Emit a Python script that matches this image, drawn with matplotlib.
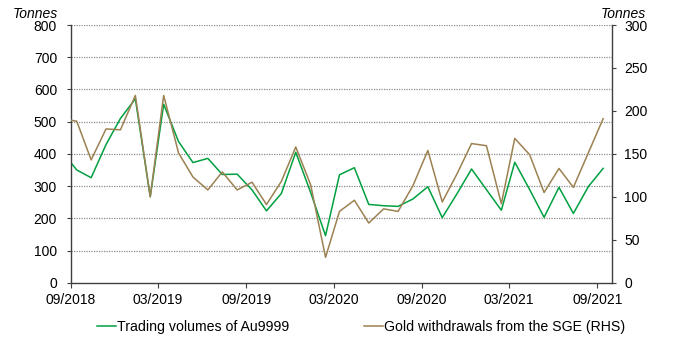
import numpy as np
import pandas as pd
import matplotlib
matplotlib.use("Agg")
import matplotlib.pyplot as plt

plt.rcParams['font.family'] = ['Liberation Sans', 'DejaVu Sans']

# monthly data, Aug 2018 .. Sep 2021 (first point is clipped by the axis)
months = pd.date_range('2018-08-01', '2021-09-01', freq='MS') + pd.Timedelta(days=12)

trading_au9999 = [408, 350, 326, 429, 510, 571, 267, 554, 438, 373, 386, 336, 337,
                  288, 223, 277, 405, 280, 146, 335, 357, 243, 239, 237, 260,
                  298, 202, 277, 353, 289, 225, 374, 289, 203, 296, 215, 298, 355]

sge_withdrawals = [191, 188, 143, 179, 178, 218, 100, 218, 151, 123, 108, 129, 108,
                   117, 91, 118, 158, 114, 29.5, 83, 96, 69.5, 86, 83, 113,
                   154, 94, 127, 162, 159.5, 92, 168, 149, 105, 133, 111, 151, 191]

tick_dates = pd.date_range('2018-09-01', '2021-09-01', freq='6MS')
tick_labels = [d.strftime('%m/%Y') for d in tick_dates]

green = '#00a040'
brown = '#9c8152'
fs = 10

fig = plt.figure(figsize=(7, 3.59), dpi=100)
ax = fig.add_axes([0.1014, 0.2125, 0.7726, 0.7178])
ax2 = ax.twinx()

ln1, = ax.plot(months, trading_au9999, color=green, lw=1.1, label='Trading volumes of Au9999')
ln2, = ax2.plot(months, sge_withdrawals, color=brown, lw=1.1, label='Gold withdrawals from the SGE (RHS)')

ax.set_xlim(pd.Timestamp('2018-09-01'), pd.Timestamp('2021-10-01'))
ax.set_ylim(0, 800)
ax.set_yticks(np.arange(0, 801, 100))
ax2.set_ylim(0, 300)
ax2.set_yticks(np.arange(0, 301, 50))
ax.set_xticks(tick_dates)
ax.set_xticklabels(tick_labels)

for y in np.arange(100, 801, 100):
    ax.axhline(y, color='#8c8c8c', lw=0.9, ls=(0, (1, 1)), zorder=0)

for a in (ax, ax2):
    a.spines['top'].set_visible(False)
    for s in a.spines.values():
        s.set_color('#404040')
        s.set_linewidth(1.0)
ax.spines['right'].set_visible(False)
ax2.spines['left'].set_visible(False)
ax2.spines['bottom'].set_visible(False)

ax.tick_params(axis='y', direction='out', length=3, pad=7, labelsize=fs, color='#404040')
ax.tick_params(axis='x', direction='out', length=3.5, pad=4, labelsize=fs, color='#404040')
ax2.tick_params(axis='y', direction='out', length=3, pad=6, labelsize=fs, color='#404040')

fig.text(0.083, 0.962, 'Tonnes', style='italic', fontsize=fs, ha='right', va='center')
fig.text(0.923, 0.962, 'Tonnes', style='italic', fontsize=fs, ha='right', va='center')

fig.legend(handles=[ln1, ln2], loc='center', bbox_to_anchor=(0.516, 0.088), ncol=2,
           frameon=False, fontsize=10.2, handlelength=1.3, handletextpad=0.1,
           columnspacing=5.3, borderaxespad=0)

fig.savefig('out.png', dpi=100)
